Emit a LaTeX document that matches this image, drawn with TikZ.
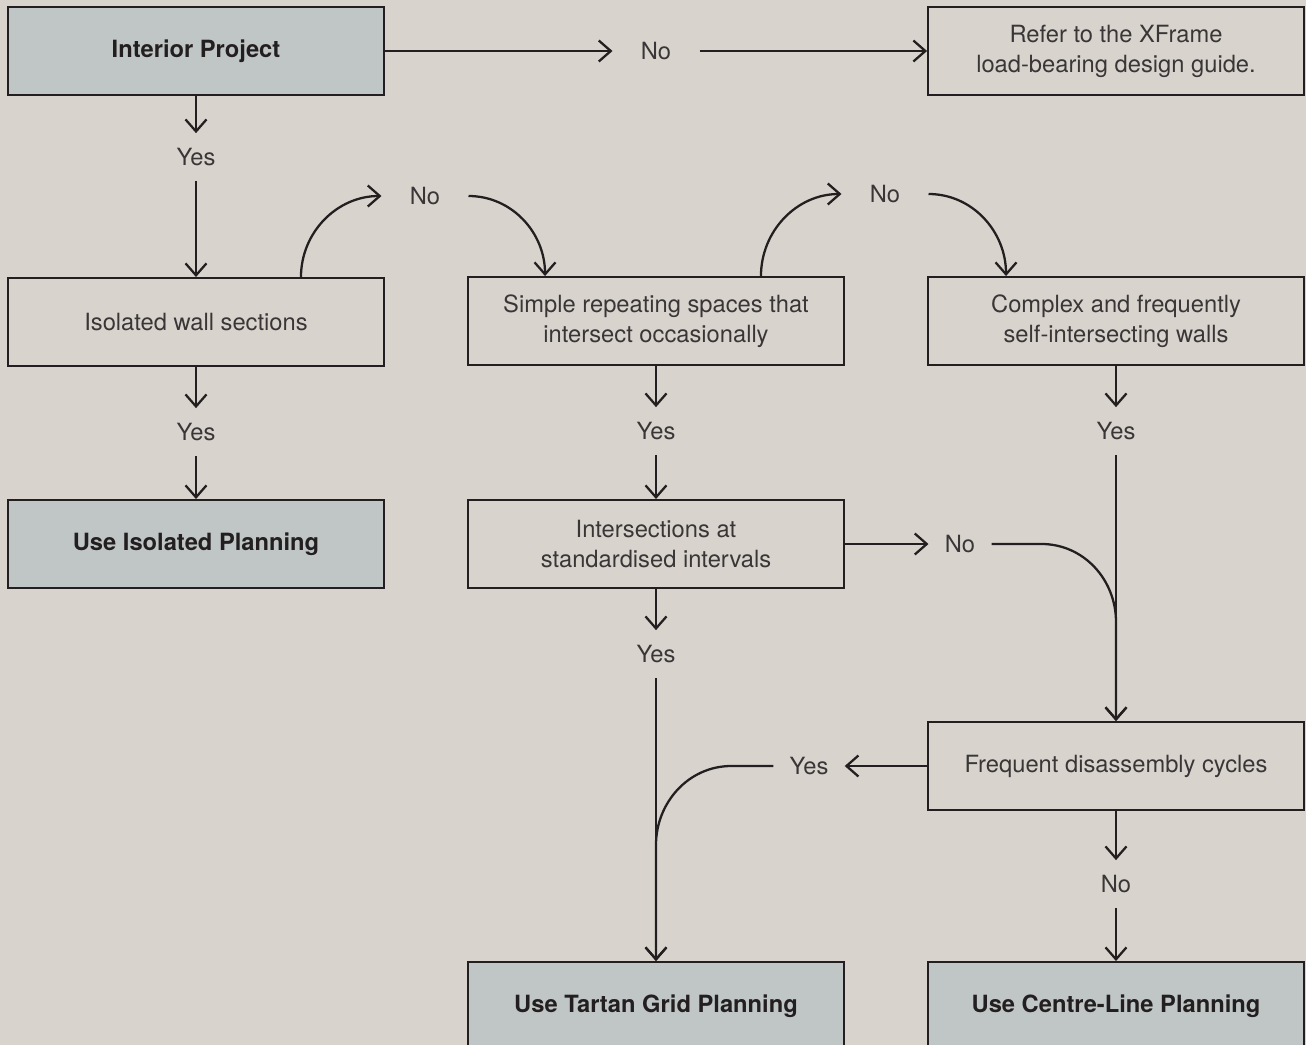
\documentclass[tikz,border=0pt]{standalone}
\usepackage{fontspec}
\setmainfont{TeX Gyre Heros}
\usetikzlibrary{arrows.meta}
\definecolor{bgbeige}{HTML}{D8D4CD}
\definecolor{boxgrey}{HTML}{C0C6C6}
\definecolor{ink}{HTML}{231F20}
\definecolor{softink}{HTML}{3A3637}

\begin{document}
\begin{tikzpicture}[x = 0.02cm, y = 0.02cm, > = {Straight Barb[length=2.4mm, width=4.2mm]},
    every node/.style = {font=\fontsize{13.5}{17}\selectfont, text=softink},
    stepbox/.style = {draw=ink, line width=1.1pt, minimum width=7.52cm, minimum height=1.76cm, inner sep=0pt, align=center},
    endbox/.style = {stepbox, fill=boxgrey, text=ink, font=\fontsize{13.5}{17}\selectfont\bfseries},
    answer/.style = {inner xsep=0.56cm, inner ysep=0.3cm, text height=0.34cm, text depth=0pt},
    answer narrow/.style = {answer, inner xsep=0.32cm},
    link/.style = {->, draw=ink, line width=1.3pt}]
          % background and page size
          \fill[bgbeige] (0,0) rectangle (1306,-1045);
          \useasboundingbox (0,0) rectangle (1306,-1045);
          \clip (0,0) rectangle (1306,-1045);

          % boxes
          \node[endbox]  (interior) at (196,-51)   {Interior Project};
          \node[stepbox] (refer)    at (1116,-51)  {Refer to the XFrame\\load-bearing design guide.};
          \node[stepbox] (isolated) at (196,-322)  {Isolated wall sections};
          \node[stepbox] (simple)   at (656,-321)  {Simple repeating spaces that\\intersect occasionally};
          \node[stepbox] (complex)  at (1116,-321) {Complex and frequently\\self-intersecting walls};
          \node[endbox]  (useiso)   at (196,-544)  {Use Isolated Planning};
          \node[stepbox] (inter)    at (656,-544)  {Intersections at\\standardised intervals};
          \node[stepbox] (frequent) at (1116,-766) {Frequent disassembly cycles};
          \node[endbox]  (tartan)   at (656,-1006) {Use Tartan Grid Planning};
          \node[endbox]  (centre)   at (1116,-1006) {Use Centre-Line Planning};

          % answers
          \node[answer] (no0)  at (656,-51)  {No};
          \node[answer] (yes0) at (196,-157) {Yes};
          \node[answer] (no1)  at (425,-196) {No};
          \node[answer] (no2)  at (885,-194) {No};
          \node[answer] (yes1) at (196,-432) {Yes};
          \node[answer] (yes2) at (656,-431) {Yes};
          \node[answer] (yes3) at (1116,-431) {Yes};
          \node[answer narrow] (no3)  at (960,-544) {No};
          \node[answer] (yes4) at (656,-654) {Yes};
          \node[answer narrow] (yes5) at (809,-766) {Yes};
          \node[answer] (no4)  at (1116,-884) {No};

          \coordinate (merge) at (1116,-622);
          \coordinate (join)  at (656,-845);

          % connectors
          \draw[link] (interior) -- (no0);
          \draw[link] (no0) -- (refer);
          \draw[link] (interior) -- (yes0);
          \draw[link] (yes0) -- (isolated);
          \draw[link] ([xshift=2.1cm]isolated.north) to[out=90, in=180] (no1.west);
          \draw[link] (no1.east) to[out=0, in=90] ([xshift=-2.22cm]simple.north);
          \draw[link] ([xshift=2.1cm]simple.north) to[out=90, in=180] (no2.west);
          \draw[link] (no2.east) to[out=0, in=90] ([xshift=-2.2cm]complex.north);
          \draw[link] (isolated) -- (yes1);
          \draw[link] (yes1) -- (useiso);
          \draw[link] (simple) -- (yes2);
          \draw[link] (yes2) -- (inter);
          \draw[link] (complex) -- (yes3);
          \draw[link] (yes3) -- (frequent);
          \draw[link] (inter) -- (no3);
          \draw[link] (no3.east) -- ++(50,0) to[out=0, in=90] (merge) -- (frequent.north);
          \draw[link] (inter) -- (yes4);
          \draw[link] (yes4) -- (tartan);
          \draw[link] (frequent) -- (yes5);
          \draw[link] (yes5.west) -- ++(-42,0) to[out=180, in=90] (join) -- (tartan.north);
          \draw[link] (frequent) -- (no4);
          \draw[link] (no4) -- (centre);
        \end{tikzpicture}
\end{document}
